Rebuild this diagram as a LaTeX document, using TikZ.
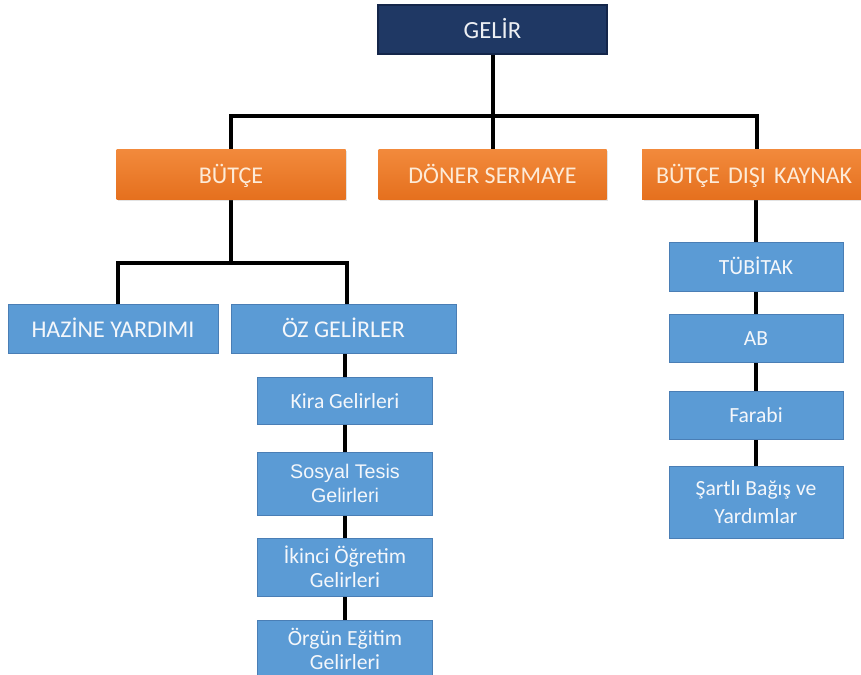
\documentclass[tikz,border=0pt]{standalone}
\usepackage{fontspec}
\setmainfont{Carlito}
\newfontfamily\arialfont{Liberation Sans}
\usetikzlibrary{shadows,backgrounds}
\definecolor{navy}{HTML}{1F3864}
\definecolor{navyline}{HTML}{14264A}
\definecolor{orangetop}{HTML}{F28A3C}
\definecolor{orangebot}{HTML}{E5701E}
\definecolor{orangetext}{HTML}{FDEBD8}
\definecolor{bluefill}{HTML}{5B9BD5}
\definecolor{blueline}{HTML}{4A7EB5}
\definecolor{bluetext}{HTML}{F4F7FB}
\tikzset{
  sz/.style 2 args={minimum width=#1*0.75pt, minimum height=#2*0.75pt, inner sep=0pt},
  linebig/.style={text height=16.8pt, text depth=3pt},
  linesmall/.style={text height=14.6pt, text depth=3pt},
  topbox/.style={draw=navyline, line width=0.8pt, fill=navy, text=white!92!navy, linebig, font=\fontsize{18.5}{22}\selectfont},
  orangebox/.style={top color=orangetop, bottom color=orangebot, draw=none, text=orangetext, linebig,
    font=\fontsize{18}{22}\selectfont, drop shadow={shadow xshift=1.2pt, shadow yshift=-1.5pt, opacity=0.22}},
  bluebox/.style={draw=blueline, line width=0.6pt, fill=bluefill, text=bluetext, align=center},
  bigblue/.style={bluebox, linebig, font=\fontsize{18}{22}\selectfont},
  smallblue/.style={bluebox, font=\fontsize{16.2}{18}\selectfont},
  link/.style={line width=3pt, draw=black},
}
\begin{document}
\begin{tikzpicture}[x=0.75pt,y=-0.75pt]
\useasboundingbox (0,0) rectangle (861,675);
\clip (0,0) rectangle (861,675);

% top
\node[topbox, sz={229}{49}] (gelir) at (492.5,29.5) {GELİR};

% orange
\node[orangebox, sz={229}{50}] (butce) at (231,174) {BÜTÇE};
\node[orangebox, sz={228}{50}] (doner) at (492.5,174) {DÖNER SERMAYE};
\node[orangebox, sz={229}{50}, text width=229*0.75pt, align=left] (bdk) at (756.5,174) {\hspace*{10.5pt}BÜTÇE DIŞI KAYNAK};

% second level
\node[bigblue, sz={210}{49}] (hazine) at (113,328.5) {HAZİNE YARDIMI};
\node[bigblue, sz={225}{49}] (oz) at (343.5,328.5) {ÖZ GELİRLER};

% left column
\node[smallblue, linesmall, sz={175}{47}] (kira) at (345,400.5) {Kira Gelirleri};
\node[bluebox, sz={175}{63}, font=\arialfont\fontsize{14.8}{18}\selectfont] (sosyal) at (345,483.5) {Sosyal Tesis\\Gelirleri};
\node[smallblue, sz={175}{58}] (ikinci) at (345,567) {İkinci Öğretim\\Gelirleri};
\node[smallblue, sz={175}{58}] (orgun) at (345,649) {Örgün Eğitim\\Gelirleri};

% right column
\node[smallblue, linesmall, sz={174}{49}] (tubitak) at (756,266.5) {TÜBİTAK};
\node[smallblue, linesmall, sz={174}{48}] (ab) at (756,338) {AB};
\node[smallblue, linesmall, sz={174}{48}] (farabi) at (756,415) {Farabi};
\node[bluebox, sz={174}{72}, font=\fontsize{16.2}{21}\selectfont] (sartli) at (756,502) {Şartlı Bağış ve\\Yardımlar};

% junctions
\coordinate (j1) at (492.5,116);
\coordinate (j2) at (231,263);
\coordinate (hzt) at (118,263);
\coordinate (ozt) at (347,263);

\begin{scope}[on background layer]
\fill[white] (0,0) rectangle (861,675);
\draw[link] (gelir.south) -- (doner.north);
\draw[link] (butce.north) |- (j1) -| (bdk.north);
\draw[link] (butce.south) -- (j2);
\draw[link] (hzt |- hazine.north) -- (hzt) -- (ozt) -- (ozt |- oz.north);
\draw[link] (kira.north |- oz.south) -- (kira.north);
\draw[link] (kira) -- (sosyal);
\draw[link] (sosyal) -- (ikinci);
\draw[link] (ikinci) -- (orgun);
\draw[link] (tubitak.north |- bdk.south) -- (tubitak.north);
\draw[link] (tubitak) -- (ab);
\draw[link] (ab) -- (farabi);
\draw[link] (farabi) -- (sartli);
\end{scope}
\end{tikzpicture}
\end{document}
